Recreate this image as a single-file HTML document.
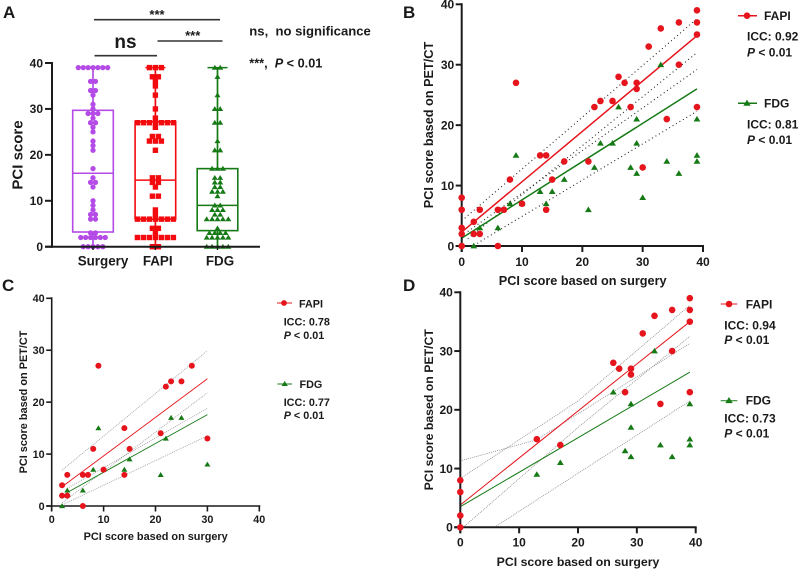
<!DOCTYPE html>
<html lang="en">
<head>
<meta charset="utf-8">
<title>PCI score comparison charts</title>
<style>
html,body{margin:0;padding:0;background:#fff;width:800px;height:569px;overflow:hidden}
svg{display:block;filter:blur(.3px)}
text{font-family:"Liberation Sans",Arial,sans-serif;font-weight:bold;fill:#1a1a1a}
</style>
</head>
<body>
<svg id="figure" xmlns="http://www.w3.org/2000/svg" width="800" height="569" viewBox="0 0 800 569">
  <rect width="800" height="569" fill="#fff"/>

  <g id="panel-a">
    <text x="3" y="18" font-size="17">A</text>
    <line x1="94" x2="220" y1="19.7" y2="19.7" stroke="#333" stroke-width="1.6"/>
    <text x="157" y="19" font-size="13" text-anchor="middle">***</text>
    <line x1="94.5" x2="157" y1="55.7" y2="55.7" stroke="#333" stroke-width="1.6"/>
    <text x="125.5" y="48" font-size="19" text-anchor="middle">ns</text>
    <line x1="157.5" x2="222.5" y1="41" y2="41" stroke="#333" stroke-width="1.6"/>
    <text x="192.7" y="40" font-size="13" text-anchor="middle">***</text>
    <text x="249.3" y="35.7" font-size="13.1" xml:space="preserve">ns,  no significance</text>
    <text x="249.3" y="67.3" font-size="12.7" xml:space="preserve">***,  <tspan font-style="italic">P</tspan> &lt; 0.01</text>
    <text transform="translate(22.5 155) rotate(-90)" font-size="15" text-anchor="middle">PCI score</text>
  </g>

  <g id="panel-b">
    <text x="403" y="18" font-size="17">B</text>
    <text x="582.7" y="285" font-size="12.7" text-anchor="middle">PCI score based on surgery</text>
    <text transform="translate(433 125) rotate(-90)" font-size="12.7" text-anchor="middle">PCI score based on PET/CT</text>
    <line x1="738" x2="757" y1="15.7" y2="15.7" stroke="#e6141c" stroke-width="1.5"/>
    <circle cx="747" cy="15.7" r="3.3" fill="#e6141c"/>
    <text x="764" y="20" font-size="12">FAPI</text>
    <text x="747" y="40.7" font-size="12">ICC: 0.92</text>
    <text x="747" y="56.7" font-size="12"><tspan font-style="italic">P</tspan> &lt; 0.01</text>
    <line x1="738" x2="757" y1="103.3" y2="103.3" stroke="#157a15" stroke-width="1.5"/>
    <polygon points="747,99.6 743.3,105.7 750.7,105.7" fill="#157a15"/>
    <text x="764" y="107.7" font-size="12">FDG</text>
    <text x="747" y="128.3" font-size="12">ICC: 0.81</text>
    <text x="747" y="144" font-size="12"><tspan font-style="italic">P</tspan> &lt; 0.01</text>
  </g>

  <g id="panel-c">
    <text x="2" y="291" font-size="17">C</text>
    <text x="155.7" y="540" font-size="10.9" text-anchor="middle">PCI score based on surgery</text>
    <text transform="translate(27 402) rotate(-90)" font-size="10.9" text-anchor="middle">PCI score based on PET/CT</text>
    <line x1="277" x2="292" y1="303" y2="303" stroke="#e6141c" stroke-width="1"/>
    <circle cx="284" cy="303" r="2.9" fill="#e6141c"/>
    <text x="299" y="307.3" font-size="10.8">FAPI</text>
    <text x="283.7" y="325.7" font-size="10.8">ICC: 0.78</text>
    <text x="283.7" y="339" font-size="10.8"><tspan font-style="italic">P</tspan> &lt; 0.01</text>
    <line x1="277.5" x2="292" y1="384" y2="384" stroke="#157a15" stroke-width="1"/>
    <polygon points="284.7,380.9 281.6,386 287.8,386" fill="#157a15"/>
    <text x="299.5" y="388" font-size="10.8">FDG</text>
    <text x="283.7" y="406" font-size="10.8">ICC: 0.77</text>
    <text x="283.7" y="419" font-size="10.8"><tspan font-style="italic">P</tspan> &lt; 0.01</text>
  </g>

  <g id="panel-d">
    <text x="403" y="291" font-size="17">D</text>
    <text x="578" y="566" font-size="12.3" text-anchor="middle">PCI score based on surgery</text>
    <text transform="translate(433 409.7) rotate(-90)" font-size="12.3" text-anchor="middle">PCI score based on PET/CT</text>
    <line x1="720.7" x2="737.3" y1="304" y2="304" stroke="#e6141c" stroke-width="1"/>
    <circle cx="729" cy="304" r="3.3" fill="#e6141c"/>
    <text x="745.7" y="308.3" font-size="12">FAPI</text>
    <text x="724.3" y="329.3" font-size="12">ICC: 0.94</text>
    <text x="724.3" y="344" font-size="12"><tspan font-style="italic">P</tspan> &lt; 0.01</text>
    <line x1="720.7" x2="737.3" y1="400.7" y2="400.7" stroke="#157a15" stroke-width="1"/>
    <polygon points="729,397 725.3,403.1 732.7,403.1" fill="#157a15"/>
    <text x="745.7" y="404.5" font-size="12">FDG</text>
    <text x="724.3" y="422.7" font-size="12">ICC: 0.73</text>
    <text x="724.3" y="437.7" font-size="12"><tspan font-style="italic">P</tspan> &lt; 0.01</text>
  </g>
</svg>

<script>
// Panel A data
const categories = ['Surgery', 'FAPI', 'FDG'];
const boxTicks = [0, 10, 20, 30, 40];
const surgeryScores = [39,39,39,39,39,39,39,36,36,34,34,33,31,30,29,29,29,28,27,27,26,25,23,22,21,17,15,14,14,13,10,9,8,7,7,6,6,3,3,2,2,2,2,2,2,0,0,0,0,0];
const fapiScores = [39,39,39,37,37,36,35,33,30,28,27,27,27,27,27,27,27,26,24,24,23,23,23,21,15,15,14,14,13,11,11,8,7,6,6,6,6,6,6,6,4,4,3,2,2,2,2,2,2,2,0,0];
const fdgScores = [39,39,37,33,30,30,27,27,23,21,21,17,17,17,15,15,14,14,13,13,12,12,12,11,9,9,8,8,8,7,7,6,6,6,6,6,4,3,3,3,3,2,2,2,2,2,0,0,0,0,0];
const boxQ1 = [3.2, 6, 3.5];
const boxMedian = [16, 14.5, 9];
const boxQ3 = [29.7, 27.2, 17];
const whiskerLow = [0, 0, 0];
const whiskerHigh = [39, 39, 39];

// Panel B data
const bFapiX = [0,0,0,0,0,2,2,3,3,6,6,7,8,9,10,13,14,14,15,17,21,22,23,25,26,27,28,29,29,30,31,33,34,36,36,39,39,39,39];
const bFapiY = [8,6,3,2,0,4,2,2,6,6,0,6,11,27,7,15,15,6,11,14,14,23,24,24,28,27,23,27,26,13,33,36,21,37,30,39,37,35,23];
const bFdgX = [2,3,6,8,9,10,13,14,15,17,21,22,23,25,26,28,29,29,29,30,33,34,36,39,39,39];
const bFdgY = [0,3,3,7,15,7,9,7,9,11,6,13,17,17,23,13,21,17,12,8,30,14,12,21,15,14];
const bFapiFitX = [0,39];      const bFapiFitY = [2.3,34.8];
const bFapiUpperX = [0.5,39];  const bFapiUpperY = [4.6,37.6];
const bFapiLowerX = [1,39];    const bFapiLowerY = [1.2,32];
const bFdgFitX = [0,39];       const bFdgFitY = [1.3,26];
const bFdgUpperX = [1,39];     const bFdgUpperY = [2.4,29.2];
const bFdgLowerX = [2,39];     const bFdgLowerY = [0.1,22.3];

// Panel C data
const cFapiX = [2,2,3,3,6,6,7,8,9,10,14,14,15,21,22,23,25,27,30];
const cFapiY = [4,2,2,6,6,0,6,11,27,7,15,6,11,14,23,24,24,27,13];
const cFdgX = [2,3,6,8,9,10,14,15,21,22,23,25,30];
const cFdgY = [0,3,3,7,15,7,7,9,6,13,17,17,8];
const cFapiFitX = [2,30];      const cFapiFitY = [3.7,24.5];
const cFapiUpperX = [2,30];    const cFapiUpperY = [6.9,29.9];
const cFapiLowerX = [2,30];    const cFapiLowerY = [0.6,21.8];
const cFdgFitX = [3,30];       const cFdgFitY = [2.6,17.6];
const cFdgUpperX = [3,30];     const cFdgUpperY = [3.4,18.8];
const cFdgLowerX = [2,30];     const cFdgLowerY = [0.2,13.5];

// Panel D data
const dFapiX = [0,0,0,0,13,17,26,27,28,29,29,31,33,34,36,36,39,39,39,39];
const dFapiY = [8,6,2,0,15,14,28,27,23,27,26,33,36,21,37,30,39,37,35,23];
const dFdgX = [13,17,26,28,29,29,29,33,34,36,39,39,39];
const dFdgY = [9,11,23,13,21,17,12,30,14,12,21,15,14];
const dFapiFitX = [0,39];        const dFapiFitY = [3.8,35];
const dFapiUpperX = [0,20,39];   const dFapiUpperY = [8.3,21.5,37.8];
const dFapiLowerX = [0.5,20,39]; const dFapiLowerY = [0,17,32.5];
const dFdgFitX = [0,39];         const dFdgFitY = [3.5,26.4];
const dFdgUpperX = [0,13,39];    const dFdgUpperY = [11.3,14.9,31.3];
const dFdgLowerX = [5.8,39];     const dFdgLowerY = [0,21.5];

const scatterTicks = [0, 10, 20, 30, 40];

const NS = 'http://www.w3.org/2000/svg';
const RED = '#e6141c';
const BOX_RED = '#f20a0f';
const GREEN = '#157a15';
const PURPLE = '#b44be6';
const INK = '#1c1c1c';

function make(tag, attrs, parent) {
  const el = document.createElementNS(NS, tag);
  for (const k in attrs) el.setAttribute(k, attrs[k]);
  parent.appendChild(el);
  return el;
}
function linear(d0, d1, r0, r1) {
  return v => r0 + (v - d0) / (d1 - d0) * (r1 - r0);
}
function triPoints(cx, cy, s) {
  return cx + ',' + (cy - s * 0.95) + ' ' + (cx - s) + ',' + (cy + s * 0.7) + ' ' + (cx + s) + ',' + (cy + s * 0.7);
}

// Lays a group's scores out in centred rows, nudging a row half a slot when it touches the row below.
function swarm(scores, step, yScale, diameter) {
  const counts = {};
  scores.forEach(v => { counts[v] = (counts[v] || 0) + 1; });
  const levels = Object.keys(counts).map(Number).sort((a, b) => a - b);
  const placed = [];
  let nudge = 1;
  levels.forEach(v => {
    const n = counts[v];
    const row = [];
    for (let i = 0; i < n; i++) row.push((i - (n - 1) / 2) * step);
    const hits = off => row.some(o => placed.some(p =>
      Math.hypot(p.off - (o + off), yScale(p.v) - yScale(v)) < diameter * 0.9));
    let shift = 0;
    if (hits(0)) { shift = nudge * step / 2; nudge = -nudge; }
    row.forEach(o => placed.push({ v: v, off: o + shift }));
  });
  return placed;
}

function drawBoxPanel() {
  const host = document.getElementById('panel-a');
  const yScale = linear(0, 40, 246.7, 63);
  const centers = [93, 155.4, 217.5];
  const labelCenters = [103, 157.7, 220];
  const colors = [PURPLE, BOX_RED, GREEN];
  const groups = [surgeryScores, fapiScores, fdgScores];
  const steps = [4.9, 6, 5.4];
  const halfWidth = 20.3;

  categories.forEach((name, i) => {
    const g = make('g', {}, host);
    
    
    const c = centers[i];
    const col = colors[i];

    const whisker = make('line', { x1: c, x2: c, y1: yScale(whiskerLow[i]), y2: yScale(whiskerHigh[i]), stroke: col, 'stroke-width': 1.7 }, g);
    
    

    const capTop = make('line', { x1: c - 10, x2: c + 10, y1: yScale(whiskerHigh[i]), y2: yScale(whiskerHigh[i]), stroke: col, 'stroke-width': 1.5 }, g);
    
    

    const capLow = make('line', { x1: c - 10, x2: c + 10, y1: yScale(whiskerLow[i]), y2: yScale(whiskerLow[i]), stroke: col, 'stroke-width': 1.5 }, g);
    
    

    const box = make('rect', { x: c - halfWidth, width: halfWidth * 2, y: yScale(boxQ3[i]), height: yScale(boxQ1[i]) - yScale(boxQ3[i]), fill: '#fff', stroke: col, 'stroke-width': 1.6 }, g);
    
    

    const median = make('line', { x1: c - halfWidth, x2: c + halfWidth, y1: yScale(boxMedian[i]), y2: yScale(boxMedian[i]), stroke: col, 'stroke-width': 1.5 }, g);
    
    

    swarm(groups[i], steps[i], yScale, 5).forEach(p => {
      const cx = c + p.off;
      const cy = yScale(p.v);
      let mark;
      if (i === 0) {
        mark = make('circle', { cx: cx, cy: cy, r: 2.65, fill: col }, g);
      } else if (i === 1) {
        mark = make('rect', { x: cx - 2.7, y: cy - 2.7, width: 5.4, height: 5.4, fill: col }, g);
      } else {
        mark = make('polygon', { points: triPoints(cx, cy, 3), fill: col }, g);
      }
      
      
    });

    const tick = make('line', { x1: c, x2: c, y1: 246.7, y2: 250, stroke: INK, 'stroke-width': 1.4 }, host);
    
    

    const label = make('text', { x: labelCenters[i], y: 265.7, 'font-size': 13.4, 'text-anchor': 'middle' }, host);
    label.textContent = name;
    
    
  });

  const yAxis = make('line', { x1: 52, x2: 52, y1: 62, y2: 247.7, stroke: INK, 'stroke-width': 2 }, host);
  
  

  const xAxis = make('line', { x1: 45, x2: 260, y1: 246.7, y2: 246.7, stroke: INK, 'stroke-width': 2 }, host);
  
  

  boxTicks.forEach(t => {
    const tick = make('line', { x1: 45, x2: 52, y1: yScale(t), y2: yScale(t), stroke: INK, 'stroke-width': 2 }, host);
    
    

    const label = make('text', { x: 43, y: yScale(t) + 4.3, 'font-size': 12, 'text-anchor': 'end' }, host);
    label.textContent = t;
    
    
  });
}

function drawScatter(cfg) {
  const host = document.getElementById(cfg.host);
  const xScale = linear(0, 40, cfg.x0, cfg.x1);
  const yScale = linear(0, 40, cfg.y0, cfg.y1);

  const drawLine = (xs, ys, col, width, dash, name) => {
    const line = make('polyline', {
      points: xs.map((x, i) => xScale(x) + ',' + yScale(ys[i])).join(' '),
      fill: 'none', stroke: col, 'stroke-width': width
    }, host);
    if (dash) line.setAttribute('stroke-dasharray', dash);
    
    
  };

  cfg.bands.forEach(b => drawLine(b.x, b.y, cfg.bandColor, cfg.bandWidth, cfg.bandDash, b.name));
  cfg.fits.forEach(f => drawLine(f.x, f.y, f.color, cfg.fitWidth, null, f.name));

  const yAxis = make('line', { x1: cfg.x0, x2: cfg.x0, y1: cfg.y1 - 1, y2: cfg.y0 + cfg.tickLen, stroke: INK, 'stroke-width': cfg.axisWidth }, host);
  
  

  const xAxis = make('line', { x1: cfg.x0 - cfg.tickLen, x2: cfg.x1 + 1, y1: cfg.y0, y2: cfg.y0, stroke: INK, 'stroke-width': cfg.axisWidth }, host);
  
  

  scatterTicks.forEach(t => {
    const xTick = make('line', { x1: xScale(t), x2: xScale(t), y1: cfg.y0, y2: cfg.y0 + cfg.tickLen, stroke: INK, 'stroke-width': cfg.axisWidth }, host);
    
    

    const yTick = make('line', { x1: cfg.x0 - cfg.tickLen, x2: cfg.x0, y1: yScale(t), y2: yScale(t), stroke: INK, 'stroke-width': cfg.axisWidth }, host);
    
    

    const xLabel = make('text', { x: xScale(t), y: cfg.xLabelY, 'font-size': cfg.tickFont, 'text-anchor': 'middle' }, host);
    xLabel.textContent = t;
    
    

    const yLabel = make('text', { x: cfg.x0 - cfg.tickLen - 1.5, y: yScale(t) + cfg.tickFont * 0.36, 'font-size': cfg.tickFont, 'text-anchor': 'end' }, host);
    yLabel.textContent = t;
    
    
  });

  cfg.fdgX.forEach((x, i) => {
    const tri = make('polygon', { points: triPoints(xScale(x), yScale(cfg.fdgY[i]), cfg.tri), fill: GREEN }, host);
    
    
  });
  cfg.fapiX.forEach((x, i) => {
    const dot = make('circle', { cx: xScale(x), cy: yScale(cfg.fapiY[i]), r: cfg.r, fill: RED }, host);
    
    
  });
}

drawBoxPanel();

drawScatter({
  id: 'panel-b', host: 'panel-b',
  x0: 461.7, x1: 703, y0: 246, y1: 4.3,
  tickLen: 6, axisWidth: 2, tickFont: 12, xLabelY: 266,
  r: 3.3, tri: 3.4, fitWidth: 1.5, bandWidth: 1.1, bandDash: '1 3', bandColor: '#222',
  fapiX: bFapiX, fapiY: bFapiY, fdgX: bFdgX, fdgY: bFdgY,
  fits: [
    { x: bFdgFitX, y: bFdgFitY, color: GREEN, name: 'panel-b-fdg-fit-line' },
    { x: bFapiFitX, y: bFapiFitY, color: RED, name: 'panel-b-fapi-fit-line' }
  ],
  bands: [
    { x: bFapiUpperX, y: bFapiUpperY, name: 'panel-b-fapi-upper-band' },
    { x: bFapiLowerX, y: bFapiLowerY, name: 'panel-b-fapi-lower-band' },
    { x: bFdgUpperX, y: bFdgUpperY, name: 'panel-b-fdg-upper-band' },
    { x: bFdgLowerX, y: bFdgLowerY, name: 'panel-b-fdg-lower-band' }
  ]
});

drawScatter({
  id: 'panel-c', host: 'panel-c',
  x0: 51.7, x1: 259.3, y0: 506, y1: 298.3,
  tickLen: 5.5, axisWidth: 1.6, tickFont: 10.8, xLabelY: 523,
  r: 3, tri: 3, fitWidth: 0.9, bandWidth: 0.8, bandDash: '1 1', bandColor: '#9a9a9a',
  fapiX: cFapiX, fapiY: cFapiY, fdgX: cFdgX, fdgY: cFdgY,
  fits: [
    { x: cFdgFitX, y: cFdgFitY, color: GREEN, name: 'panel-c-fdg-fit-line' },
    { x: cFapiFitX, y: cFapiFitY, color: RED, name: 'panel-c-fapi-fit-line' }
  ],
  bands: [
    { x: cFapiUpperX, y: cFapiUpperY, name: 'panel-c-fapi-upper-band' },
    { x: cFapiLowerX, y: cFapiLowerY, name: 'panel-c-fapi-lower-band' },
    { x: cFdgUpperX, y: cFdgUpperY, name: 'panel-c-fdg-upper-band' },
    { x: cFdgLowerX, y: cFdgLowerY, name: 'panel-c-fdg-lower-band' }
  ]
});

drawScatter({
  id: 'panel-d', host: 'panel-d',
  x0: 460.3, x1: 695.7, y0: 527.3, y1: 292.3,
  tickLen: 6, axisWidth: 2, tickFont: 12, xLabelY: 546.7,
  r: 3.3, tri: 3.4, fitWidth: 1, bandWidth: 0.8, bandDash: '1 1', bandColor: '#8a8a8a',
  fapiX: dFapiX, fapiY: dFapiY, fdgX: dFdgX, fdgY: dFdgY,
  fits: [
    { x: dFdgFitX, y: dFdgFitY, color: GREEN, name: 'panel-d-fdg-fit-line' },
    { x: dFapiFitX, y: dFapiFitY, color: RED, name: 'panel-d-fapi-fit-line' }
  ],
  bands: [
    { x: dFapiUpperX, y: dFapiUpperY, name: 'panel-d-fapi-upper-band' },
    { x: dFapiLowerX, y: dFapiLowerY, name: 'panel-d-fapi-lower-band' },
    { x: dFdgUpperX, y: dFdgUpperY, name: 'panel-d-fdg-upper-band' },
    { x: dFdgLowerX, y: dFdgLowerY, name: 'panel-d-fdg-lower-band' }
  ]
});
</script>
</body>
</html>
